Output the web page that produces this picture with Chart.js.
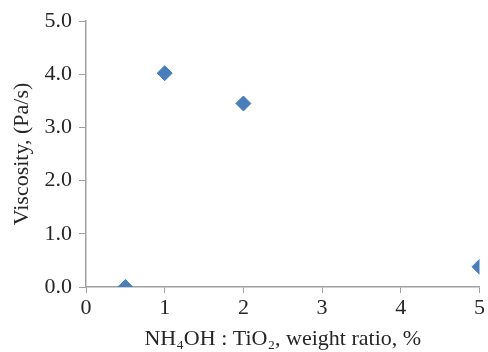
<!DOCTYPE html>
<html lang="en">
<head>
    <meta charset="UTF-8">
    <title>Viscosity vs NH4OH ratio</title>
    <script src="https://cdn.jsdelivr.net/npm/chart.js"></script>
    <style>
        html, body { margin: 0; padding: 0; background: #fff; }
        #wrap { width: 488px; height: 352px; }
    </style>
</head>
<body>
    <div id="wrap"><canvas id="chart" width="488" height="352"></canvas></div>
    <script>
        // Data
        const ratios = [0.5, 1, 2, 5];
        const viscosity = [0.0, 4.02, 3.45, 0.38];
        const xTicks = [0, 1, 2, 3, 4, 5];
        const yTicks = [0, 1, 2, 3, 4, 5];

        const axisGray = '#a0a0a0';
        const textColor = '#262626';
        const font = { family: "'Liberation Serif', 'Times New Roman', serif", size: 22 };

        new Chart(document.getElementById('chart'), {
            type: 'scatter',
            data: {
                datasets: [{
                    data: ratios.map((x, i) => ({ x: x, y: viscosity[i] })),
                    pointStyle: 'rectRot',
                    pointRadius: 7.5,
                    backgroundColor: '#4a7ebb',
                    borderColor: '#4a7ebb',
                    borderWidth: 1
                }]
            },
            options: {
                responsive: false,
                animation: false,
                layout: { padding: { top: 21, right: 0, left: 0, bottom: 0 } },
                plugins: { legend: { display: false }, tooltip: { enabled: false } },
                scales: {
                    x: {
                        type: 'linear',
                        min: 0, max: 5,
                        afterBuildTicks: axis => { axis.ticks = xTicks.map(v => ({ value: v })); },
                        afterFit: axis => { axis.height = 65; axis.paddingRight = 6; },
                        border: { color: axisGray, width: 1.5 },
                        grid: { drawOnChartArea: false, drawTicks: true, tickLength: 6, color: axisGray },
                        ticks: { color: textColor, font: font, padding: 2 },
                        title: {
                            display: true,
                            text: 'NH\u2084OH : TiO\u2082, weight ratio, %',
                            color: textColor, font: font, padding: { top: 0, bottom: 0 }
                        }
                    },
                    y: {
                        min: 0, max: 5,
                        afterBuildTicks: axis => { axis.ticks = yTicks.map(v => ({ value: v })); },
                        afterFit: axis => { axis.width = 86; },
                        border: { color: axisGray, width: 1.5 },
                        grid: { drawOnChartArea: false, drawTicks: true, tickLength: 7, color: axisGray },
                        ticks: { color: textColor, font: font, padding: 7, callback: v => v.toFixed(1) },
                        title: {
                            display: true,
                            text: 'Viscosity, (Pa/s)',
                            color: textColor, font: font, padding: { top: 9, bottom: 0 }
                        }
                    }
                }
            }
        });
    </script>
</body>
</html>
